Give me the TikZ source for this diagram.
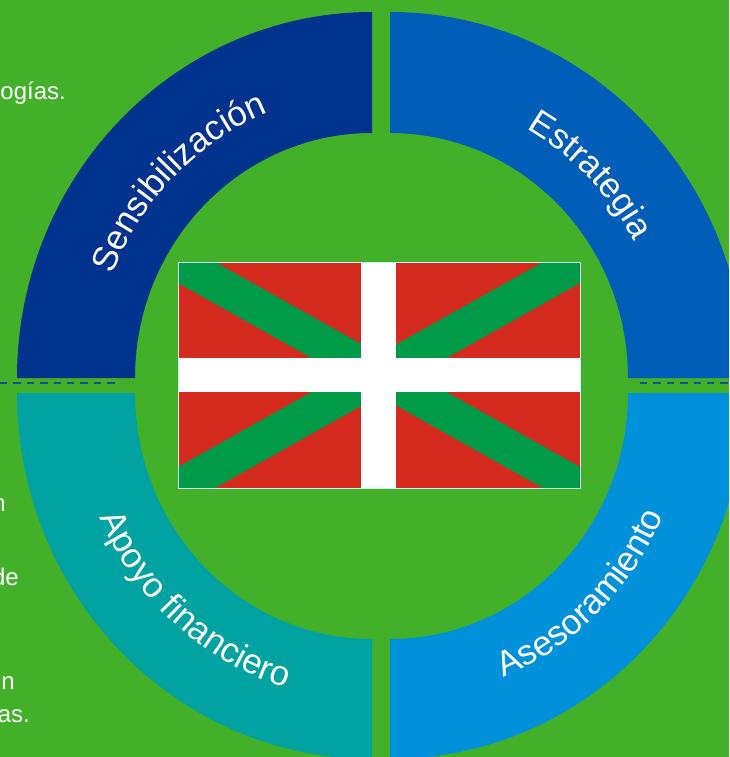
\documentclass[tikz,border=0pt]{standalone}
\usepackage{fontspec}
\setmainfont{Liberation Sans}
\usetikzlibrary{decorations.text}
\definecolor{bggreen}{HTML}{43B02A}
\definecolor{ringnavy}{HTML}{00338D}
\definecolor{ringblue}{HTML}{005EB8}
\definecolor{ringteal}{HTML}{00A3A1}
\definecolor{ringsky}{HTML}{0091DA}
\definecolor{flagred}{HTML}{D52B1E}
\definecolor{flaggreen}{HTML}{009B48}
\definecolor{dashblue}{HTML}{14508F}
\tikzset{
	sidetext/.style={anchor=base east,inner sep=0pt,text=white,font=\fontsize{24}{24}\selectfont},
	divider/.style={dashblue,line width=2pt,dash pattern=on 7.4pt off 6pt},
	ringtext/.style={decorate,decoration={text along path,text align=center,text={|\fontsize{35}{35}\selectfont\color{white}|#1}}}
}
\begin{document}
\begin{tikzpicture}[x=1pt,y=1pt]
	\useasboundingbox (0,0) rectangle (729,-757);
	\clip (0,0) rectangle (729,-757);
	\fill [bggreen] (0,0) rectangle (729,-757);
	% Side texts
	\node [sidetext] (side1) at (66,-100) {ogías.};
	\node [sidetext] (side2) at (6,-511) {n};
	\node [sidetext] (side3) at (19,-585) {de};
	\node [sidetext] (side4) at (15,-689) {n};
	\node [sidetext] (side5) at (30,-722) {as.};
	% Dashes
	\draw [divider] (0,-383) -- (115,-383);
	\draw [divider] (640,-383) -- (729,-383);
	% Ring
	\fill [ringnavy] (372,-12) arc [start angle=90,end angle=180,x radius=355,y radius=366] -- (135,-378) arc [start angle=180,end angle=90,x radius=237,y radius=245] -- cycle;
	\fill [ringblue] (390,-12) arc [start angle=90,end angle=0,x radius=355,y radius=366] -- (628,-378) arc [start angle=0,end angle=90,x radius=238,y radius=245] -- cycle;
	\fill [ringteal] (372,-759) arc [start angle=270,end angle=180,x radius=355,y radius=366] -- (135,-393) arc [start angle=180,end angle=270,x radius=237,y radius=246] -- cycle;
	\fill [ringsky] (390,-759) arc [start angle=270,end angle=360,x radius=355,y radius=366] -- (628,-393) arc [start angle=360,end angle=270,x radius=238,y radius=246] -- cycle;
	% Labels
	\path [ringtext={Sensibilización}] (372,-378) ++(185:278 and 286) arc [start angle=185,end angle=85,x radius=278,y radius=286];
	\path [ringtext={Estrategia}] (390,-378) ++(95:278 and 286) arc [start angle=95,end angle=-5,x radius=278,y radius=286];
	\path [ringtext={Apoyo financiero}] (372,-393) ++(175:298 and 308) arc [start angle=175,end angle=283,x radius=298,y radius=308];
	\path [ringtext={Asesoramiento}] (390,-393) ++(260:298 and 308) arc [start angle=260,end angle=368,x radius=298,y radius=308];
	% Flag
	\fill [flagred] (178,-262) rectangle (580,-488);
	\fill [flaggreen] (178,-262) -- (215,-262) -- (580,-467) -- (580,-488) -- (543,-488) -- (178,-283) -- cycle;
	\fill [flaggreen] (580,-262) -- (543,-262) -- (178,-467) -- (178,-488) -- (215,-488) -- (580,-283) -- cycle;
	\fill [white] (361,-262) rectangle (396,-488);
	\fill [white] (178,-358) rectangle (580,-392);
	\draw [white!80!cyan,line width=1pt] (178,-262) rectangle (580,-488);
\end{tikzpicture}
\end{document}
